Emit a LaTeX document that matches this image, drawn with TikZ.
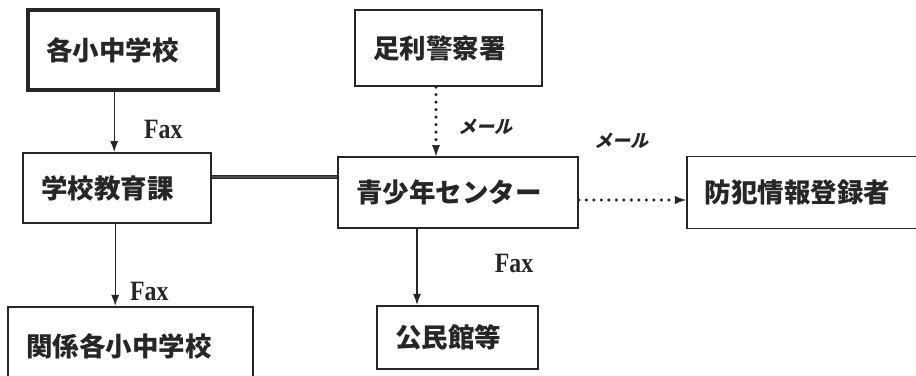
\documentclass[tikz,border=0pt]{standalone}
\usepackage{fontspec}
\usepackage{tikz}
\usetikzlibrary{arrows.meta,positioning,calc}
\newfontfamily\jp{Noto Sans CJK JP}
\newfontfamily\jpslant[FakeSlant=0.25]{Noto Sans CJK JP}
\newfontfamily\faxfont{Liberation Serif}
\newcommand{\faxlabel}{\scalebox{0.85}[1]{Fax}}

\begin{document}
\begin{tikzpicture}[
    x=1pt, y=-1pt,
    box/.style={draw=black!85, line width=1.8pt, align=left, inner xsep=18pt, inner ysep=0pt, text=black!85, font={\jp\bfseries\fontsize{26.5}{30}\selectfont}},
    heavy/.style={line width=4pt},
    fax/.style={text=black!85, font={\faxfont\bfseries\fontsize{28}{30}\selectfont}},
    mail/.style={text=black!85, font={\jpslant\bfseries\fontsize{18}{20}\selectfont}},
    arr/.style={-{Latex[length=11pt,width=8pt]}, line width=1.2pt, draw=black!85},
    dots/.style={-{Latex[length=11pt,width=8pt,line width=0.5pt]}, line width=3.4pt, line cap=round, dash pattern=on 0pt off 7.5pt, draw=black!85}
]
    \useasboundingbox[fill=white] (0,0) rectangle (916,375);

    \node [box, text width=204pt, minimum height=71pt] (center) at (458,192.5) {青少年センター};
    \node [box, text width=152pt, minimum height=70pt, left=125pt of center, yshift=4.5pt] (edu) {学校教育課};
    \node [box, heavy, text width=154pt, minimum height=80pt, above=60pt of edu, xshift=6pt] (schools) {各小中学校};
    \node [box, text width=209pt, minimum height=80pt, below=82pt of edu, xshift=13.5pt] (related) {関係各小中学校};
    \node [box, text width=151pt, minimum height=76pt, above=69pt of center, xshift=-9.5pt] (police) {足利警察署};
    \node [box, text width=204pt, minimum height=72pt, right=107pt of center] (crime) {防犯情報登録者};
    \node [box, text width=125pt, minimum height=63pt, below=76pt of center, xshift=-0.5pt] (hall) {公民館等};

    % Connections
    \draw [arr] ([xshift=-3pt]edu.north |- schools.south) -- node [fax, pos=0.63, right=26pt] {\faxlabel} ([xshift=-3pt]edu.north);
    \draw [arr] ([xshift=-2pt]edu.south) -- node [fax, pos=0.83, right=11pt] {\faxlabel} ([xshift=-2pt]edu.south |- related.north);
    \draw [arr] ([xshift=-41pt]center.south) -- node [fax, pos=0.46, right=74pt] {\faxlabel} ([xshift=-41pt]center.south |- hall.north);
    \draw [dots] ([xshift=-12.5pt]police.south) -- node [mail, pos=0.57, right=17pt] {メール} ([xshift=-12.5pt]police.south |- center.north);
    \draw [dots] ([yshift=-7.5pt]center.east) -- node [mail, pos=0.4, above=46pt] {メール} ([yshift=-7.5pt]center.east -| crime.west);
    \draw [line width=1.6pt, draw=black!85, double=black!70, double distance=1.2pt] ([yshift=11pt]edu.east) -- ([yshift=11pt]edu.east -| center.west);

\end{tikzpicture}
\end{document}
